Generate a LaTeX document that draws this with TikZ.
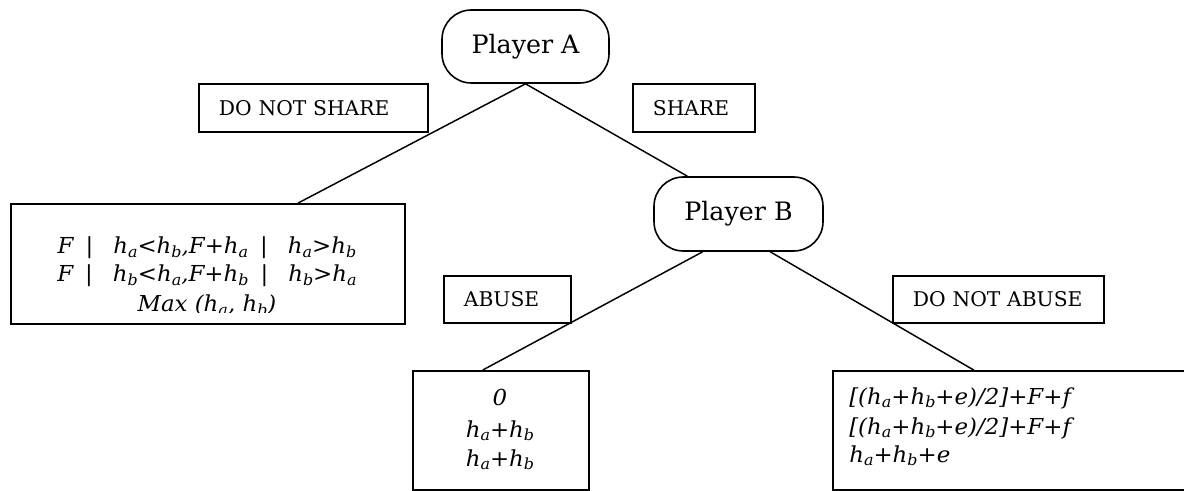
\documentclass[tikz,border=0pt]{standalone}
\usepackage{fontspec}
\setmainfont{DejaVu Serif}
\newfontfamily\leaffont[FakeStretch=1.04]{DejaVu Serif}
\usetikzlibrary{calc}
\newcommand\sbx[1]{\raisebox{-0.3ex}{\fontsize{11.5}{11.5}\selectfont #1}}
\newcommand\vb{{\upshape|}}
\begin{document}
\begin{tikzpicture}[x=0.75pt,y=-0.75pt,
  player/.style={draw, line width=1.2pt, rounded corners=22pt, inner sep=0pt,
    font=\fontsize{19}{21}\selectfont},
  lab/.style={draw, line width=1.4pt, anchor=north west, inner xsep=15pt, inner ysep=0pt,
    minimum height=36pt, align=left, font=\fontsize{15.2}{17}\selectfont},
  leaf/.style={draw, line width=1.4pt, anchor=north west, inner sep=0pt, minimum height=89.25pt},
  txt/.style={anchor=base, inner sep=0pt, font=\leaffont\itshape\fontsize{16.5}{19}\selectfont},
  txtl/.style={txt, anchor=base west},
  edge/.style={line width=1.1pt}]
\useasboundingbox (0,0) rectangle (1184,491);
\clip (0,0) rectangle (1184,491);
% players
\node[player, minimum width=125.25pt, minimum height=54.75pt] (A) at (525.5,46.5) {Player A};
\node[player, minimum width=126.75pt, minimum height=55.5pt] (B) at (738.5,214) {Player B};
% labels
\node[lab, text width=141.75pt] (lDNS) at (198,83) {DO NOT SHARE};
\node[lab, text width=61.5pt] (lS) at (632,83) {SHARE};
\node[lab, text width=65.25pt, minimum height=35.25pt] (lAB) at (443,275) {ABUSE};
\node[lab, text width=128.25pt, minimum height=35.25pt] (lDNA) at (892,275) {DO NOT ABUSE};
% leaves
\node[leaf, minimum width=295.5pt, minimum height=90pt] (L1) at (10,203) {};
\node[leaf, minimum width=132pt] (L2) at (412,370) {};
\node[leaf, minimum width=276pt] (L3) at (832,370) {};
% leaf texts
\node[txt] (L1a) at (207,254) {F\hspace{9pt}\vb\hspace{15pt}h\sbx{a}<h\sbx{b},F+h\sbx{a}\hspace{9pt}\vb\hspace{15pt}h\sbx{a}>h\sbx{b}};
\node[txt] (L1b) at (207,282) {F\hspace{9pt}\vb\hspace{15pt}h\sbx{b}<h\sbx{a},F+h\sbx{b}\hspace{9pt}\vb\hspace{15pt}h\sbx{b}>h\sbx{a}};
\begin{scope}
  \clip (10,203) rectangle (404,313);
  \node[txt] (L1c) at (207,312) {Max (h\sbx{a}, h\sbx{b})};
\end{scope}
\node[txt] (L2a) at (500,405) {0};
\node[txt] (L2b) at (500,437) {h\sbx{a}+h\sbx{b}};
\node[txt] (L2c) at (500,466) {h\sbx{a}+h\sbx{b}};
\node[txtl] (L3a) at (849,404) {[(h\sbx{a}+h\sbx{b}+e)/2]+F+f};
\node[txtl] (L3b) at (849,434) {[(h\sbx{a}+h\sbx{b}+e)/2]+F+f};
\node[txtl] (L3c) at (849,462) {h\sbx{a}+h\sbx{b}+e};
% edges
\draw[edge] (A.south) -- ($(L1.north west)!0.728!(L1.north east)$);
\draw[edge] (A.south) -- ($(B.north west)!0.2!(B.north east)$);
\draw[edge] ($(B.south west)!0.29!(B.south east)$) -- ($(L2.north west)!0.398!(L2.north east)$);
\draw[edge] ($(B.south west)!0.686!(B.south east)$) -- ($(L3.north west)!0.383!(L3.north east)$);
\end{tikzpicture}
\end{document}
